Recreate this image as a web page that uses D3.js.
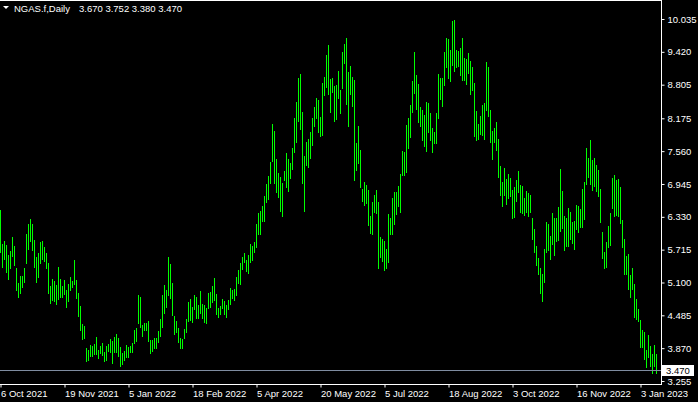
<!DOCTYPE html>
<html>
<head>
<meta charset="utf-8">
<script src="https://cdn.jsdelivr.net/npm/d3@7"></script>
<style>
  body { margin: 0; background: #000; overflow: hidden; }
  text { font-family: "Liberation Sans", Arial, sans-serif; font-size: 9.5px; }
</style>
</head>
<body>
<div id="chart"></div>
<script>
// daily bar highs / lows, oldest first (one bar per trading day)
const highs = [
  6.46,5.82,5.88,5.80,5.62,5.69,5.95,5.78,5.37,5.09,
  5.22,5.22,5.37,6.01,6.20,6.29,6.20,5.90,5.58,5.65,
  5.86,5.88,5.77,5.65,5.47,5.03,5.17,5.13,5.05,5.39,
  5.17,5.03,5.15,4.96,5.07,5.20,5.13,5.52,5.15,4.90,
  4.66,4.32,4.29,3.87,3.84,3.93,3.91,3.95,4.08,3.84,
  3.91,3.97,3.80,3.91,3.95,4.04,4.00,4.08,4.14,4.06,
  3.89,3.78,3.82,3.93,3.89,3.91,3.97,4.21,4.25,4.87,
  4.83,4.30,4.34,4.34,4.38,4.02,4.02,4.06,4.06,4.19,
  4.42,4.87,5.05,4.96,5.58,5.45,5.09,4.47,4.38,4.25,
  4.06,4.04,4.23,4.42,4.73,4.79,4.64,4.87,4.83,4.68,
  4.94,4.70,4.68,4.62,4.90,4.92,5.03,5.18,4.88,4.62,
  4.66,4.79,4.75,4.68,4.77,5.00,4.96,4.98,5.20,5.33,
  5.47,5.58,5.65,5.52,5.62,5.82,5.78,5.86,6.20,6.40,
  6.44,6.53,6.72,6.95,7.10,7.36,8.07,7.94,7.41,7.15,
  7.08,6.96,7.19,7.53,7.41,7.34,7.62,8.18,8.48,8.93,
  9.01,8.29,7.47,7.73,7.79,7.92,8.18,8.39,8.56,8.52,
  8.20,8.84,8.95,9.36,9.55,8.91,8.93,8.78,8.80,9.06,
  8.71,9.42,9.57,9.68,9.04,9.15,8.95,8.89,7.71,8.03,
  7.58,6.85,6.98,6.93,6.83,6.35,6.61,6.74,6.83,6.61,
  5.95,5.92,5.88,5.73,6.38,6.31,6.68,6.80,6.80,6.91,
  7.13,7.56,7.54,8.05,8.18,8.42,8.87,9.42,8.99,8.82,
  8.39,8.33,8.24,8.48,8.46,8.28,7.99,7.92,8.28,9.01,
  8.93,8.93,9.42,9.68,9.66,9.46,10.00,10.02,9.46,9.44,
  9.49,9.68,9.30,9.29,9.40,9.25,9.14,8.84,8.31,8.07,
  8.22,8.42,8.46,9.23,9.14,8.33,7.94,7.99,8.11,7.79,
  7.28,6.98,7.24,7.04,7.13,7.06,6.83,6.89,7.02,7.19,
  6.93,6.91,6.68,6.81,6.78,6.74,6.31,6.10,5.78,5.56,
  5.37,5.26,5.73,6.23,6.20,5.97,6.40,6.31,6.31,6.51,
  7.23,6.81,6.35,6.31,6.50,6.42,6.23,6.25,6.55,6.53,
  6.48,6.85,6.98,7.62,7.43,7.77,7.39,7.43,7.30,7.21,
  6.85,6.05,5.67,5.86,6.16,6.40,7.06,7.11,7.02,7.04,
  6.89,6.27,5.92,5.60,5.63,5.24,5.37,5.07,4.79,4.60,
  4.40,4.21,4.17,3.84,4.12,3.91,3.76,3.93,3.752
];

const lows = [
  5.65,5.37,5.52,5.28,5.15,5.35,5.58,5.41,4.94,4.81,
  4.88,5.00,5.09,5.45,5.71,5.86,5.69,5.37,5.09,5.18,
  5.45,5.52,5.48,5.35,4.88,4.70,4.75,4.73,4.68,4.77,
  4.81,4.81,4.87,4.62,4.73,4.94,5.00,5.05,4.79,4.45,
  4.19,4.02,4.04,3.61,3.63,3.70,3.70,3.74,3.74,3.67,
  3.76,3.72,3.61,3.63,3.80,3.78,3.57,3.78,3.78,3.70,
  3.52,3.55,3.63,3.69,3.69,3.78,3.78,3.95,3.99,4.32,
  4.25,4.08,4.19,4.19,3.99,3.76,3.80,3.85,3.85,3.97,
  4.08,4.25,4.51,4.62,4.85,4.79,4.47,4.12,4.15,3.97,
  3.85,3.85,4.04,4.15,4.36,4.38,4.34,4.58,4.42,4.42,
  4.51,4.42,4.34,4.32,4.60,4.62,4.72,4.75,4.49,4.44,
  4.49,4.60,4.49,4.44,4.58,4.68,4.79,4.75,4.85,5.07,
  5.05,5.33,5.47,5.30,5.26,5.47,5.50,5.65,5.75,5.99,
  5.99,6.23,6.23,6.59,6.65,6.95,7.36,6.95,6.78,6.68,
  6.42,6.33,7.00,6.87,6.80,7.04,7.21,7.53,7.71,8.11,
  7.96,6.95,6.42,7.28,7.24,7.41,7.66,8.01,8.16,7.90,
  7.83,7.84,8.59,8.74,8.61,8.28,8.65,8.11,8.14,8.54,
  8.26,8.72,9.19,8.42,8.01,8.61,8.39,7.00,7.19,7.32,
  6.87,6.61,6.53,6.57,6.16,6.01,5.99,6.40,6.38,5.35,
  5.56,5.48,5.32,5.35,5.47,5.99,5.99,6.18,6.36,6.51,
  6.40,7.10,7.10,7.15,7.60,7.81,8.28,8.63,8.33,8.09,
  8.01,7.75,7.64,7.54,7.90,7.75,7.53,7.69,7.69,8.16,
  8.52,8.39,8.78,9.12,8.91,8.86,9.15,9.04,9.12,9.14,
  8.97,8.87,8.87,8.80,9.01,8.61,8.69,7.83,7.75,7.77,
  7.86,7.84,7.77,8.31,8.20,7.71,7.39,7.71,7.56,7.06,
  6.72,6.51,6.72,6.55,6.66,6.70,6.29,6.31,6.61,6.78,
  6.40,6.38,6.35,6.40,6.33,6.40,5.90,5.65,5.41,5.24,
  4.88,4.73,5.09,5.65,5.69,5.52,5.80,5.60,5.86,5.88,
  6.05,6.10,5.69,5.77,5.77,5.90,5.82,5.71,6.08,6.03,
  6.12,6.12,6.27,6.93,7.06,6.93,6.81,6.89,6.80,6.70,
  6.21,5.54,5.35,5.37,5.75,5.78,6.48,6.33,6.35,6.33,
  6.20,5.75,5.24,5.24,4.96,4.81,4.96,4.44,4.40,4.36,
  3.87,3.87,3.65,3.50,3.69,3.52,3.39,3.52,3.38
];

const priceTicks = [10.035, 9.420, 8.805, 8.175, 7.560, 6.945, 6.330, 5.715, 5.100, 4.485, 3.870, 3.255];
const dateTickBars = [0, 32, 64, 96, 128, 160, 192, 224, 256, 288, 320];
const dateTickLabels = ["6 Oct 2021", "19 Nov 2021", "5 Jan 2022", "18 Feb 2022", "5 Apr 2022",
  "20 May 2022", "5 Jul 2022", "18 Aug 2022", "3 Oct 2022", "16 Nov 2022", "3 Jan 2023"];
const symbol = "NGAS.f,Daily";
const lastOHLC = [3.670, 3.752, 3.380, 3.470];

const W = 698, H = 402;
const plotRight = 661, plotBottom = 384;

const svg = d3.select("#chart")
  .append("svg")
  .attr("width", W)
  .attr("height", H)
  .style("background", "#000");

// 2px per bar
const x = d3.scaleLinear().domain([0, 330]).range([0, 660]);
const y = d3.scaleLinear().domain([3.255, 10.035]).range([381, 19]);

// bars (high-low lines)
svg.append("g")
  .selectAll("rect")
  .data(highs)
  .join("rect")
  .attr("x", (d, i) => x(i))
  .attr("width", 1)
  .attr("y", d => Math.round(y(d)))
  .attr("height", (d, i) => Math.max(1, Math.round(y(lows[i])) - Math.round(y(d))))
  .attr("fill", "#00ff00")
  .attr("shape-rendering", "crispEdges");

// bid line
const bidY = Math.round(y(lastOHLC[3])) + 0.5;
svg.append("line")
  .attr("x1", 0).attr("x2", plotRight)
  .attr("y1", bidY).attr("y2", bidY)
  .attr("stroke", "#7f8ca0")
  .attr("stroke-width", 1);

// frame
svg.append("rect")
  .attr("x", -1).attr("y", 0.5)
  .attr("width", plotRight + 1.5).attr("height", plotBottom)
  .attr("fill", "none")
  .attr("stroke", "#fff")
  .attr("stroke-width", 1)
  .attr("shape-rendering", "crispEdges");

// price axis
const yAxis = svg.append("g")
  .attr("transform", `translate(${plotRight + 0.5},0)`)
  .call(d3.axisRight(y).tickValues(priceTicks).tickSize(3).tickPadding(3).tickFormat(d3.format(".3f")));
yAxis.select(".domain").remove();
yAxis.selectAll("line").attr("stroke", "#fff");
yAxis.selectAll("text").attr("fill", "#fff").style("font-family", null).style("font-size", null)
  .attr("font-family", null).attr("font-size", null);

// time axis
const xAxis = svg.append("g")
  .attr("transform", `translate(0.5,${plotBottom + 0.5})`)
  .call(d3.axisBottom(x).tickValues(dateTickBars).tickSize(3).tickFormat((d, i) => dateTickLabels[i]));
xAxis.select(".domain").remove();
xAxis.selectAll("line").attr("stroke", "#fff");
xAxis.selectAll("text").attr("fill", "#fff").attr("text-anchor", "start").attr("x", 0)
  .attr("font-family", null).attr("font-size", null);

// bid label
svg.append("rect")
  .attr("x", plotRight + 1).attr("y", bidY - 5.5)
  .attr("width", 32).attr("height", 11)
  .attr("fill", "#fff");
svg.append("text")
  .attr("x", plotRight + 5).attr("y", bidY)
  .attr("dy", "0.33em")
  .attr("fill", "#000")
  .text(lastOHLC[3].toFixed(3));

// header
svg.append("path")
  .attr("d", "M3,6 L9,6 L6,9 Z")
  .attr("fill", "#fff");
svg.append("text")
  .attr("x", 14).attr("y", 12)
  .attr("fill", "#fff")
  .text(symbol);
svg.append("text")
  .attr("x", 79).attr("y", 12)
  .attr("fill", "#fff")
  .text(lastOHLC.map(v => v.toFixed(3)).join(" "));
</script>
</body>
</html>
